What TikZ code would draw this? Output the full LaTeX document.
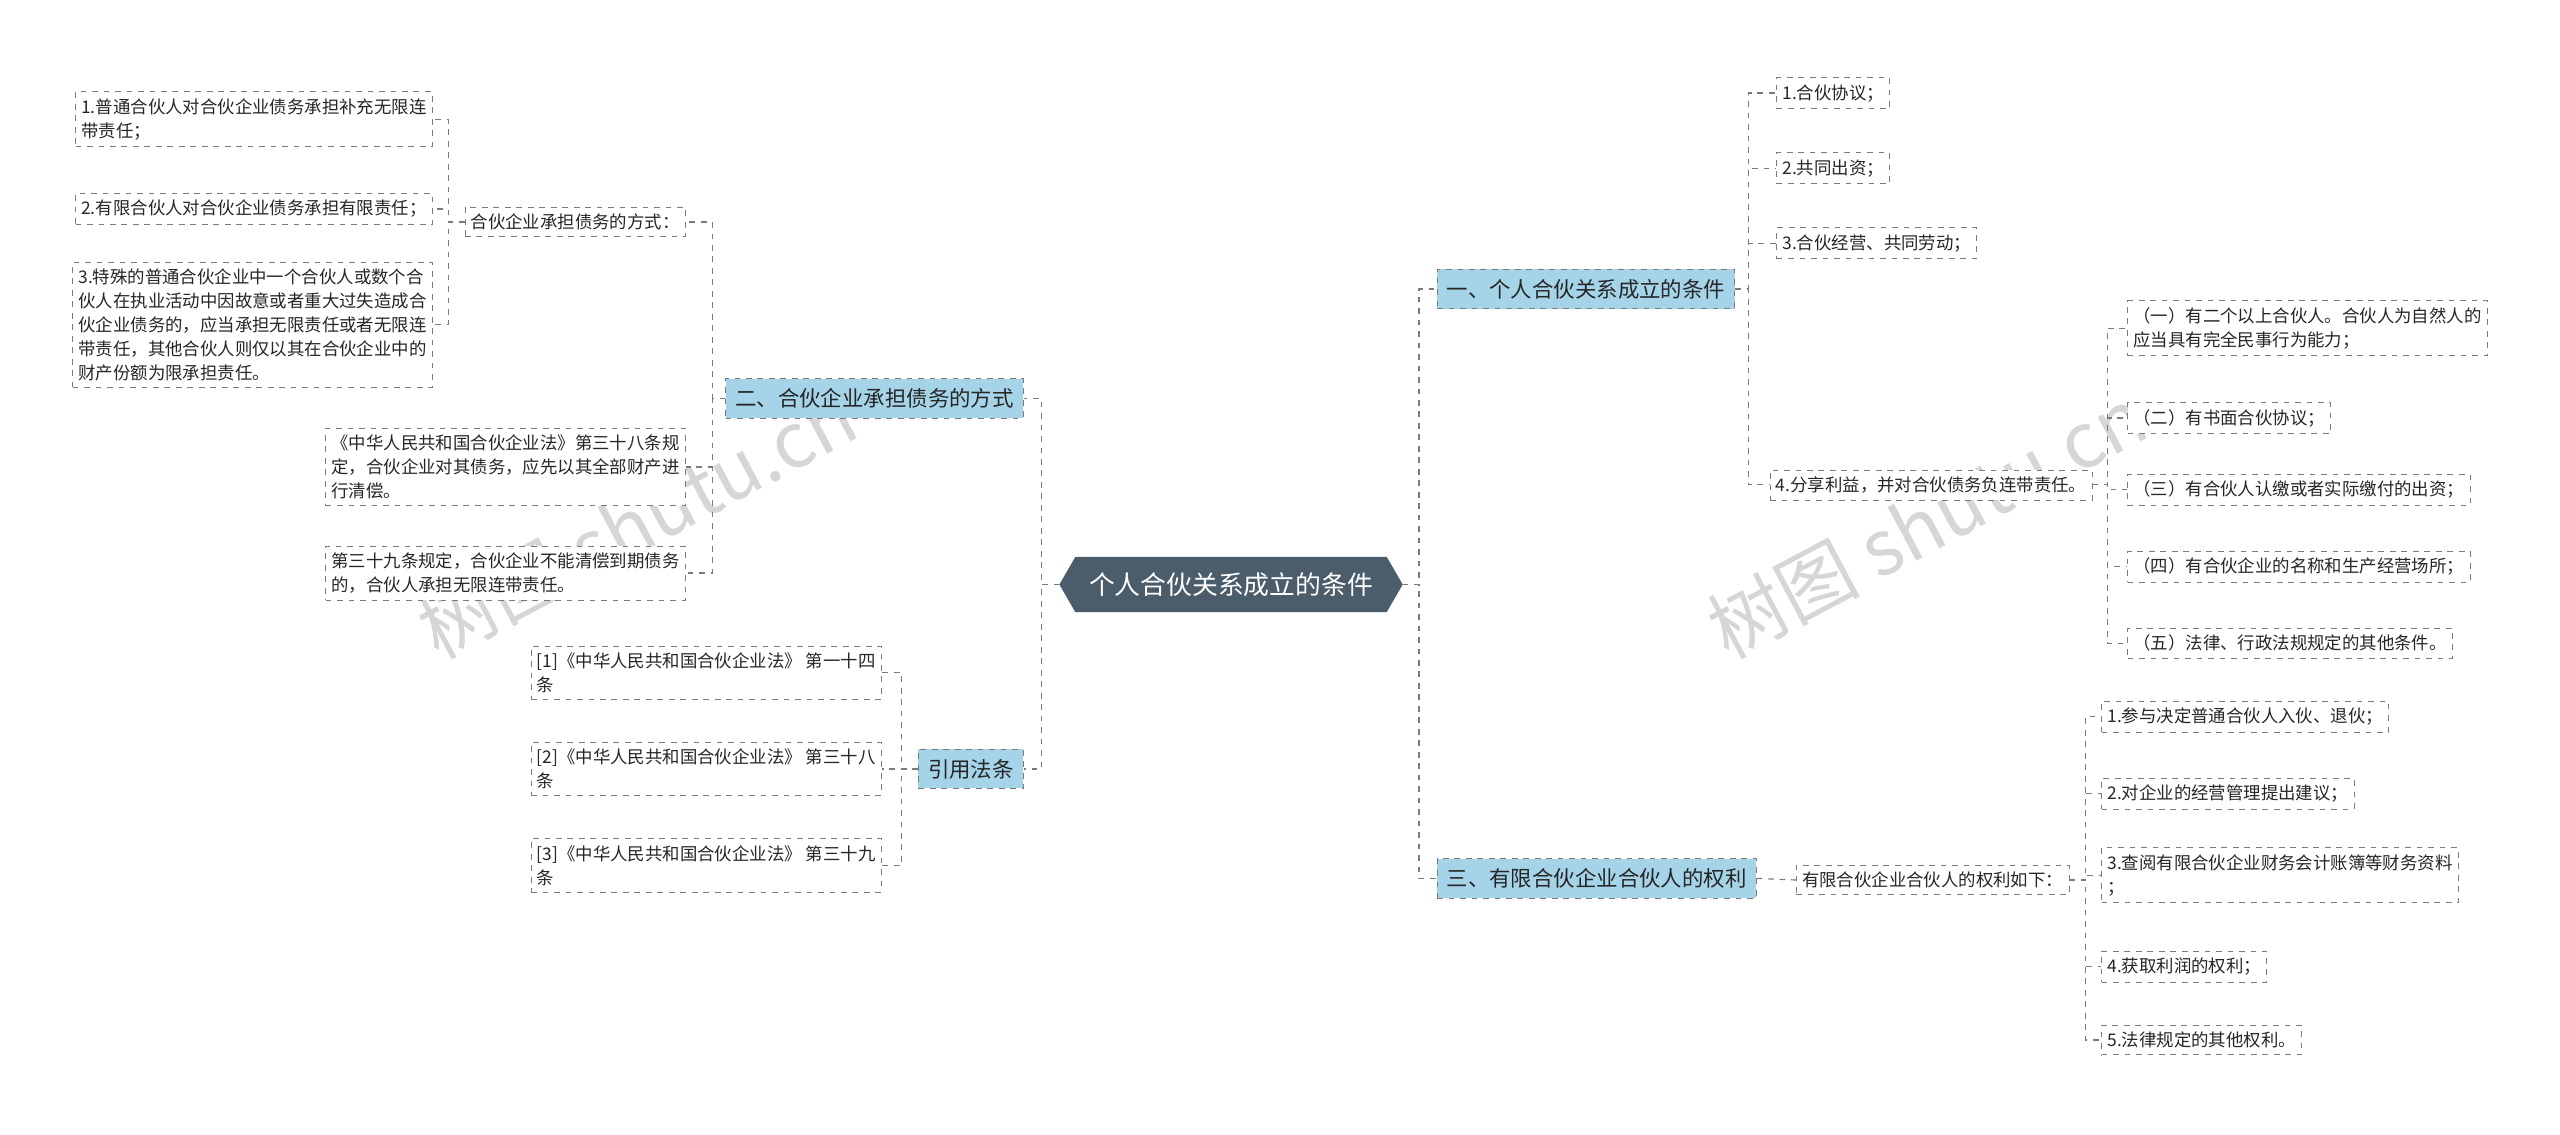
\documentclass[tikz,border=0pt]{standalone}
\usepackage{fontspec}
\setmainfont{Noto Sans CJK SC}
\usetikzlibrary{shapes.symbols}
\definecolor{lineg}{HTML}{7A7A7A}
\definecolor{bluef}{HTML}{A5D3E8}
\definecolor{rootf}{HTML}{4B5C6B}
\tikzset{
 x={0.03cm}, y={-0.03cm},
 leaf/.style={draw=lineg, dashed, fill=white, align=left, inner xsep=3pt, inner ysep=3.5pt, font=\fontsize{9.1}{12.5}\selectfont, text=black!85},
 br/.style={draw=lineg, dashed, fill=bluef, inner xsep=5pt, inner ysep=5pt, font=\fontsize{11.2}{13}\selectfont, text=black!85},
 con/.style={draw=lineg, dashed, line width=0.6pt},
 wm/.style={text=black!16, font=\fontsize{40}{40}\selectfont, rotate=28},
}
\begin{document}
\begin{tikzpicture}
\useasboundingbox (0,0) rectangle (1568,695);
\node[wm] at (390,320) {树图 shutu.cn};
\node[wm] at (1180,320) {树图 shutu.cn};
% root
\node[signal, signal to=east and west, signal pointer angle=120, fill=rootf, text=white, inner xsep=7pt, inner ysep=8pt, font=\fontsize{13.5}{16}\selectfont, draw=rootf] (root) at (754,358) {个人合伙关系成立的条件};
% branches
\node[br, anchor=west] (b1) at (880,177) {一、个人合伙关系成立的条件};
\node[br, anchor=west] (b3) at (880,538) {三、有限合伙企业合伙人的权利};
\node[br, anchor=east] (b2) at (627,244) {二、合伙企业承担债务的方式};
\node[br, anchor=east] (b4) at (627,471) {引用法条};
% b1 children
\node[leaf, anchor=west] (a1) at (1088,57) {1.合伙协议；};
\node[leaf, anchor=west] (a2) at (1088,103) {2.共同出资；};
\node[leaf, anchor=west] (a3) at (1088,149) {3.合伙经营、共同劳动；};
\node[leaf, anchor=west] (a4) at (1084,297) {4.分享利益，并对合伙债务负连带责任。};
\node[leaf, anchor=west] (c1) at (1303,201) {（一）有二个以上合伙人。合伙人为自然人的\\应当具有完全民事行为能力；};
\node[leaf, anchor=west] (c2) at (1303,256) {（二）有书面合伙协议；};
\node[leaf, anchor=west] (c3) at (1303,300) {（三）有合伙人认缴或者实际缴付的出资；};
\node[leaf, anchor=west] (c4) at (1303,347) {（四）有合伙企业的名称和生产经营场所；};
\node[leaf, anchor=west] (c5) at (1303,394) {（五）法律、行政法规规定的其他条件。};
% b3 children
\node[leaf, anchor=west] (d0) at (1100,539) {有限合伙企业合伙人的权利如下：};
\node[leaf, anchor=west] (d1) at (1287,439) {1.参与决定普通合伙人入伙、退伙；};
\node[leaf, anchor=west] (d2) at (1287,486) {2.对企业的经营管理提出建议；};
\node[leaf, anchor=west] (d3) at (1287,536) {3.查阅有限合伙企业财务会计账簿等财务资料\\；};
\node[leaf, anchor=west] (d4) at (1287,592) {4.获取利润的权利；};
\node[leaf, anchor=west] (d5) at (1287,637) {5.法律规定的其他权利。};
% b2 children
\node[leaf, anchor=east] (e0) at (420,136) {合伙企业承担债务的方式：};
\node[leaf, anchor=east] (e1) at (420,286) {《中华人民共和国合伙企业法》第三十八条规\\定，合伙企业对其债务，应先以其全部财产进\\行清偿。};
\node[leaf, anchor=east] (e2) at (420,351) {第三十九条规定，合伙企业不能清偿到期债务\\的，合伙人承担无限连带责任。};
\node[leaf, anchor=east] (f1) at (265,73) {1.普通合伙人对合伙企业债务承担补充无限连\\带责任；};
\node[leaf, anchor=east] (f2) at (265,128) {2.有限合伙人对合伙企业债务承担有限责任；};
\node[leaf, anchor=east] (f3) at (265,199) {3.特殊的普通合伙企业中一个合伙人或数个合\\伙人在执业活动中因故意或者重大过失造成合\\伙企业债务的，应当承担无限责任或者无限连\\带责任，其他合伙人则仅以其在合伙企业中的\\财产份额为限承担责任。};
% b4 children
\node[leaf, anchor=east] (g1) at (540,412) {[1]《中华人民共和国合伙企业法》 第一十四\\条};
\node[leaf, anchor=east] (g2) at (540,471) {[2]《中华人民共和国合伙企业法》 第三十八\\条};
\node[leaf, anchor=east] (g3) at (540,530) {[3]《中华人民共和国合伙企业法》 第三十九\\条};
% connectors
\foreach \t in {b1,b3} \draw[con] (root.east) -- ++(10,0) |- (\t.west);
\foreach \t in {b2,b4} \draw[con] (root.west) -- ++(-11,0) |- (\t.east);
\foreach \t in {a1,a2,a3,a4} \draw[con] (b1.east) -- ++(8,0) |- (\t.west);
\foreach \t in {c1,c2,c3,c4,c5} \draw[con] (a4.east) -- ++(9,0) |- (\t.west);
\draw[con] (b3.east) -- (d0.west);
\foreach \t in {d1,d2,d3,d4,d5} \draw[con] (d0.east) -- ++(10,0) |- (\t.west);
\foreach \t in {e0,e1,e2} \draw[con] (b2.west) -- ++(-8,0) |- (\t.east);
\foreach \t in {f1,f2,f3} \draw[con] (e0.west) -- ++(-10,0) |- (\t.east);
\foreach \t in {g1,g2,g3} \draw[con] (b4.west) -- ++(-10,0) |- (\t.east);
\end{tikzpicture}
\end{document}
